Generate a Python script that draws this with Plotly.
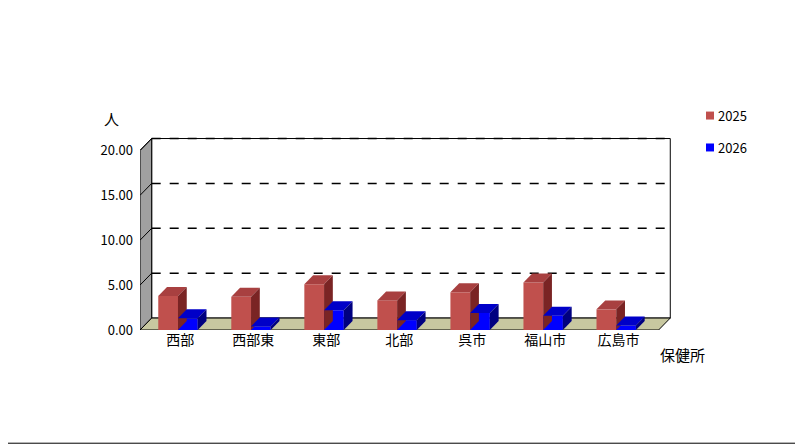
import plotly.graph_objects as go

categories = ["西部", "西部東", "東部", "北部", "呉市", "福山市", "広島市"]
v2025 = [3.8, 3.7, 5.1, 3.3, 4.2, 5.3, 2.3]
v2026 = [1.3, 0.4, 2.2, 1.1, 1.9, 1.6, 0.5]
yticks = [0, 5, 10, 15, 20]

OFF = 8  # page body margin
W, H = 803 - OFF, 444 - OFF
L = 140 - OFF
B = 444 - 330
XR = [-0.55, 6.72]
YR = [0, 21.5]
pw = 531
ph = 193.5
T = H - B - ph
R = W - L - pw

DX, DY = 0.16, 1.33
bdx, bdy = 0.12, 1.0
BW = 0.27

fig = go.Figure()
shapes = []
x0, x1 = -0.55, 6.55
shapes.append(dict(type="rect", x0=x0+DX, x1=x1+DX, y0=DY, y1=20+DY, xref="x", yref="y",
                   fillcolor="white", line=dict(color="black", width=1), layer="below"))
shapes.append(dict(type="path", path=f"M{x0},0 L{x0+DX},{DY} L{x0+DX},{20+DY} L{x0},20 Z",
                   fillcolor="#a0a0a0", line=dict(color="black", width=1), layer="below"))
shapes.append(dict(type="path", path=f"M{x0},0 L{x1},0 L{x1+DX},{DY} L{x0+DX},{DY} Z",
                   fillcolor="#c8c8a0", line=dict(color="black", width=1), layer="below"))
for t in yticks[1:]:
    shapes.append(dict(type="line", x0=x0+DX, x1=x1+DX, y0=t+DY, y1=t+DY, xref="x", yref="y",
                       line=dict(color="black", width=1.5, dash="dash"), layer="below"))
    shapes.append(dict(type="line", x0=x0, x1=x0+DX, y0=t, y1=t+DY, xref="x", yref="y",
                       line=dict(color="black", width=1), layer="below"))

def add_series(vals, off, front, top, side, name):
    xs = [i + off + BW/2 for i in range(len(vals))]
    fig.add_trace(go.Bar(x=xs, y=vals, width=BW, marker=dict(color=front, line=dict(width=0)),
                         name=name, showlegend=False))
    for i, v in enumerate(vals):
        a = i + off; b = a + BW
        shapes.append(dict(type="path", path=f"M{a},{v} L{a+bdx},{v+bdy} L{b+bdx},{v+bdy} L{b},{v} Z",
                           fillcolor=top, line=dict(width=0), xref="x", yref="y"))
        shapes.append(dict(type="path", path=f"M{b},0 L{b+bdx},{bdy} L{b+bdx},{v+bdy} L{b},{v} Z",
                           fillcolor=side, line=dict(width=0), xref="x", yref="y"))

add_series(v2025, -0.30, "#c0504d", "#a84040", "#7a2424", "2025")
add_series(v2026, -0.03, "#0000ff", "#0000c8", "#000080", "2026")

# convert reference-window pixels to paper coords
def px(x): return (x - OFF - L) / pw
def py(y): return (H - B - (y - OFF)) / ph

for yy, col, lab in [(115, "#c0504d", "2025"), (147, "#0000ff", "2026")]:
    shapes.append(dict(type="rect", xref="paper", yref="paper", x0=px(706), x1=px(714),
                       y0=py(yy+4), y1=py(yy-4), fillcolor=col, line=dict(width=0)))
    fig.add_annotation(x=px(716), y=py(yy), xref="paper", yref="paper", text=lab, showarrow=False,
                       xanchor="left", yanchor="middle", font=dict(size=13, color="black"))
shapes.append(dict(type="rect", xref="paper", yref="paper", x0=px(0.5), x1=px(802.5),
                   y0=py(443.5), y1=py(0.5), line=dict(color="black", width=1)))

fig.add_annotation(x=px(102), y=py(105), xref="paper", yref="paper", text="人", showarrow=False,
                   font=dict(size=15, color="black"))
fig.add_annotation(x=px(707), y=py(367), xref="paper", yref="paper", text="保健所", showarrow=False,
                   font=dict(size=15, color="black"))

fig.update_layout(
    width=W, height=H, margin=dict(l=L, r=R, t=T, b=B),
    paper_bgcolor="white", plot_bgcolor="white", shapes=shapes, barmode="overlay",
    font=dict(family="Noto Sans CJK JP", size=13, color="black"),
)
fig.update_xaxes(range=XR, tickvals=list(range(len(categories))), ticktext=categories,
                 showgrid=False, zeroline=False, showline=False, ticks="", tickfont=dict(size=14))
fig.update_yaxes(range=YR, tickvals=yticks, tickformat=".2f", showgrid=False, zeroline=False,
                 showline=False, ticks="", ticklabelstandoff=6, tickfont=dict(size=13))
fig.write_html("out.html")
